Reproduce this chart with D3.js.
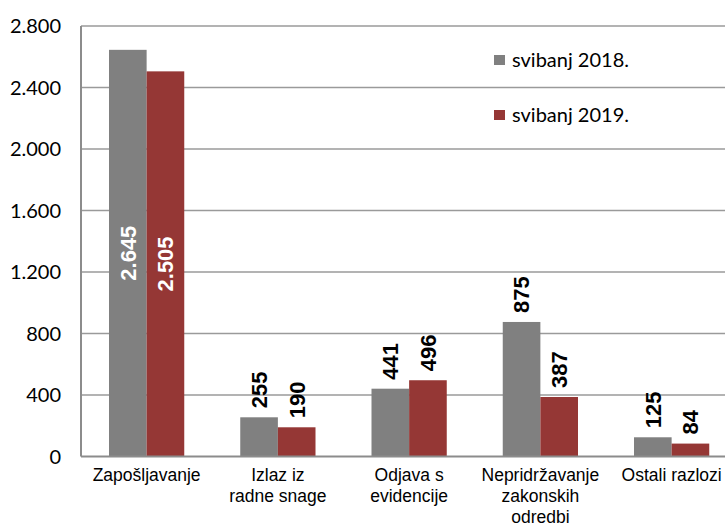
<!DOCTYPE html>
<html>
<head>
<meta charset="utf-8">
<script src="https://cdn.jsdelivr.net/npm/d3@7"></script>
<style>
  body { margin: 0; background: #fff; }
  svg { display: block; }
</style>
</head>
<body>
<div id="chart"></div>
<script>
// Chart data
var categories = [
  ["Zapošljavanje"],
  ["Izlaz iz", "radne snage"],
  ["Odjava s", "evidencije"],
  ["Nepridržavanje", "zakonskih", "odredbi"],
  ["Ostali razlozi"]
];
var seriesNames = ["svibanj 2018.", "svibanj 2019."];
var values2018 = [2645, 255, 441, 875, 125];
var values2019 = [2505, 190, 496, 387, 84];
var yTicks = [0, 400, 800, 1200, 1600, 2000, 2400, 2800];

var colors = ["#808080", "#953735"];

var width = 725, height = 525;
var plotLeft = 81, plotTop = 26, plotBottom = 456.5;
var band = 131.25;

var svg = d3.select("#chart").append("svg")
  .attr("width", width)
  .attr("height", height);

var fmt = function(v) {
  return d3.format(",")(v).replace(/,/g, ".");
};

// Scales
var x0 = d3.scaleBand()
  .domain(d3.range(categories.length))
  .range([plotLeft, plotLeft + band * categories.length]);

var x1 = d3.scaleBand()
  .domain([0, 1])
  .range([28, band - 28]);

var y = d3.scaleLinear()
  .domain([0, 2800])
  .range([plotBottom, plotTop]);

// Gridlines
svg.append("g")
  .selectAll("line")
  .data(yTicks.filter(function(d) { return d > 0; }))
  .enter()
  .append("line")
  .attr("x1", plotLeft)
  .attr("x2", width)
  .attr("y1", function(d) { return y(d); })
  .attr("y2", function(d) { return y(d); })
  .attr("stroke", "#9a9a9a")
  .attr("stroke-width", 1.5);

// Y axis labels
svg.append("g")
  .selectAll("text")
  .data(yTicks)
  .enter()
  .append("text")
  .attr("x", 61)
  .attr("y", function(d) { return y(d); })
  .attr("dy", "0.36em")
  .attr("text-anchor", "end")
  .style("font-family", "Lato, 'Open Sans', sans-serif")
  .style("font-size", "20px")
  .attr("fill", "#000")
  .text(fmt);

// Bars
var data = [];
categories.forEach(function(c, i) {
  data.push({ cat: i, s: 0, v: values2018[i] });
  data.push({ cat: i, s: 1, v: values2019[i] });
});

svg.append("g")
  .selectAll("rect")
  .data(data)
  .enter()
  .append("rect")
  .attr("x", function(d) { return x0(d.cat) + x1(d.s); })
  .attr("width", x1.bandwidth())
  .attr("y", function(d) { return y(d.v); })
  .attr("height", function(d) { return plotBottom - y(d.v); })
  .attr("fill", function(d) { return colors[d.s]; });

// Value labels (rotated)
svg.append("g")
  .selectAll("text")
  .data(data)
  .enter()
  .append("text")
  .attr("transform", function(d) {
    var cx = x0(d.cat) + x1(d.s) + x1.bandwidth() / 2;
    var inside = d.cat === 0;
    var yy = inside ? (y(d.v) + plotBottom) / 2 : y(d.v) - 9;
    return "translate(" + cx + "," + yy + ") rotate(-90)";
  })
  .attr("dy", "0.36em")
  .attr("text-anchor", function(d) { return d.cat === 0 ? "middle" : "start"; })
  .style("font-family", "'Liberation Sans', Arial, sans-serif")
  .style("font-size", "22px")
  .style("font-weight", "bold")
  .attr("fill", function(d) { return d.cat === 0 ? "#fff" : "#000"; })
  .text(function(d) { return fmt(d.v); });

// Axis lines
svg.append("line")
  .attr("x1", plotLeft).attr("x2", plotLeft)
  .attr("y1", plotTop).attr("y2", plotBottom)
  .attr("stroke", "#8c8c8c").attr("stroke-width", 2);
svg.append("line")
  .attr("x1", plotLeft).attr("x2", width)
  .attr("y1", plotBottom).attr("y2", plotBottom)
  .attr("stroke", "#8c8c8c").attr("stroke-width", 2);

// Category labels
var catG = svg.append("g")
  .selectAll("text")
  .data(categories)
  .enter()
  .append("text")
  .attr("x", function(d, i) { return x0(i) + band / 2; })
  .attr("y", 481)
  .attr("text-anchor", "middle")
  .style("font-family", "'Liberation Sans', Arial, sans-serif")
  .style("font-size", "17.5px")
  .attr("fill", "#000");

catG.selectAll("tspan")
  .data(function(d) { return d; })
  .enter()
  .append("tspan")
  .attr("x", function() { return d3.select(this.parentNode).attr("x"); })
  .attr("dy", function(d, i) { return i === 0 ? 0 : 21; })
  .text(function(d) { return d; });

// Legend
var legend = svg.append("g")
  .selectAll("g")
  .data(seriesNames)
  .enter()
  .append("g")
  .attr("transform", function(d, i) { return "translate(494," + (55 + i * 55) + ")"; });

legend.append("rect")
  .attr("width", 11)
  .attr("height", 10)
  .attr("fill", function(d, i) { return colors[i]; });

legend.append("text")
  .attr("x", 18)
  .attr("y", 11.5)
  .style("font-family", "Lato, 'Open Sans', sans-serif")
  .style("font-size", "20px")
  .attr("fill", "#000")
  .text(function(d) { return d; });
</script>
</body>
</html>
